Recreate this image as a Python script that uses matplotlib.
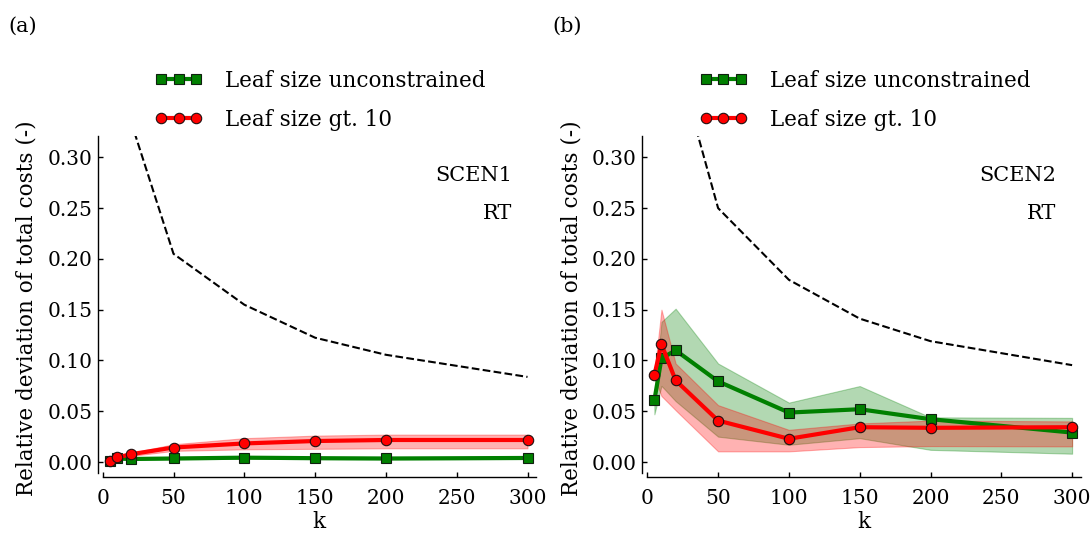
import matplotlib
matplotlib.use('Agg')
import matplotlib.pyplot as plt

# ---------------- data ----------------
k = [5, 10, 20, 50, 100, 150, 200, 300]

# panel (a) SCEN1
a_green = [0.0008, 0.0035, 0.0030, 0.0035, 0.0043, 0.0038, 0.0035, 0.0040]
a_green_lo = [0.0000, 0.0025, 0.0020, 0.0025, 0.0033, 0.0028, 0.0025, 0.0030]
a_green_hi = [0.0016, 0.0045, 0.0040, 0.0045, 0.0053, 0.0048, 0.0045, 0.0050]
a_red = [0.0015, 0.0045, 0.0077, 0.0143, 0.0183, 0.0207, 0.0217, 0.0217]
a_red_lo = [0.0010, 0.0035, 0.0060, 0.0110, 0.0125, 0.0130, 0.0135, 0.0135]
a_red_hi = [0.0020, 0.0055, 0.0090, 0.0175, 0.0235, 0.0260, 0.0270, 0.0270]
a_dash_k = [20, 50, 100, 150, 200, 300]
a_dash = [0.335, 0.2050, 0.1549, 0.1224, 0.1056, 0.0838]

# panel (b) SCEN2
b_green = [0.0608, 0.1020, 0.1100, 0.0794, 0.0487, 0.0520, 0.0422, 0.0290]
b_green_lo = [0.0470, 0.0750, 0.0600, 0.0250, 0.0170, 0.0235, 0.0120, 0.0082]
b_green_hi = [0.0650, 0.1380, 0.1510, 0.0970, 0.0585, 0.0748, 0.0440, 0.0435]
b_red = [0.0856, 0.1160, 0.0804, 0.0408, 0.0229, 0.0343, 0.0337, 0.0343]
b_red_lo = [0.0830, 0.0650, 0.0510, 0.0105, 0.0105, 0.0147, 0.0157, 0.0154]
b_red_hi = [0.0880, 0.1500, 0.0970, 0.0560, 0.0317, 0.0380, 0.0408, 0.0400]
b_dash_k = [20, 50, 100, 150, 200, 300]
b_dash = [0.401, 0.2500, 0.1794, 0.1412, 0.1190, 0.0954]

xticks = [0, 50, 100, 150, 200, 250, 300]
yticks = [0.00, 0.05, 0.10, 0.15, 0.20, 0.25, 0.30]
labels = ['Leaf size unconstrained', 'Leaf size gt. 10']
ylabel = 'Relative deviation of total costs (-)'
xlabel = 'k'
scen_text = [['SCEN1', 'RT'], ['SCEN2', 'RT']]
panel_labels = ['(a)', '(b)']

plt.rcParams['font.family'] = ['DejaVu Serif']
FS = 15
LFS = 15.5
TFS = 14.5

W, H = 1092, 534
fig = plt.figure(figsize=(W / 100, H / 100), dpi=100)

def px_axes(x0, x1, y0, y1):
    return [x0 / W, 1 - y1 / H, (x1 - x0) / W, (y1 - y0) / H]

axA = fig.add_axes(px_axes(102.7, 536.0, 136.0, 472.7))
axB = fig.add_axes(px_axes(647.3, 1080.6, 136.0, 472.7))

panels = [
    (axA, a_green, a_green_lo, a_green_hi, a_red, a_red_lo, a_red_hi, a_dash_k, a_dash),
    (axB, b_green, b_green_lo, b_green_hi, b_red, b_red_lo, b_red_hi, b_dash_k, b_dash),
]

for i, (ax, g, glo, ghi, r, rlo, rhi, dk, dv) in enumerate(panels):
    ax.fill_between(k, glo, ghi, color='green', alpha=0.3, lw=0.8, zorder=1)
    ax.fill_between(k, rlo, rhi, color='red', alpha=0.3, lw=0.8, zorder=1)
    lg, = ax.plot(k, g, color='green', lw=3, marker='s', ms=7, mec='#102010', mew=0.8,
                  label=labels[0], zorder=3)
    lr, = ax.plot(k, r, color='red', lw=3, marker='o', ms=7.5, mec='#201010', mew=0.8,
                  label=labels[1], zorder=4)
    ax.plot(dk, dv, color='black', ls='--', lw=1.5, zorder=2)

    ax.set_xlim(0, 306)
    ax.set_ylim(-0.0105, 0.321)
    ax.set_xticks(xticks)
    ax.set_yticks(yticks)
    ax.set_yticklabels(['%.2f' % v for v in yticks])
    ax.tick_params(direction='in', length=3.5, width=1, labelsize=TFS,
                   top=False, right=False)
    ax.tick_params(axis='x', pad=8.5)
    ax.tick_params(axis='y', pad=4)
    for s in ['top', 'right']:
        ax.spines[s].set_visible(False)
    ax.spines['left'].set_position(('outward', 3.6))
    ax.spines['bottom'].set_position(('outward', 3.0))
    for s in ['left', 'bottom']:
        ax.spines[s].set_linewidth(1.0)
    ax.patch.set_visible(False)

    ax.set_ylabel(ylabel, fontsize=LFS)
    ax.yaxis.set_label_coords(-0.150, 0.49)
    ax.set_xlabel(xlabel, fontsize=LFS)
    ax.xaxis.set_label_coords(0.5, -0.115)

    ax.text(0.9446, 0.884, scen_text[i][0], transform=ax.transAxes, ha='right',
            va='center', fontsize=FS)
    ax.text(0.9446, 0.771, scen_text[i][1], transform=ax.transAxes, ha='right',
            va='center', fontsize=FS)

    off = 544.6 * i
    fig.text((8 + off) / W, 1 - 26 / H, panel_labels[i], ha='left', va='center',
             fontsize=FS)

    fig.legend(handles=[lg, lr], loc='upper left',
               bbox_to_anchor=((155 + off) / W, 1 - 70 / H),
               bbox_transform=fig.transFigure, frameon=False, numpoints=3,
               handlelength=2.2, handletextpad=1.05, labelspacing=0.78,
               borderpad=0, borderaxespad=0, fontsize=LFS)

fig.savefig('out.png', dpi=100)
